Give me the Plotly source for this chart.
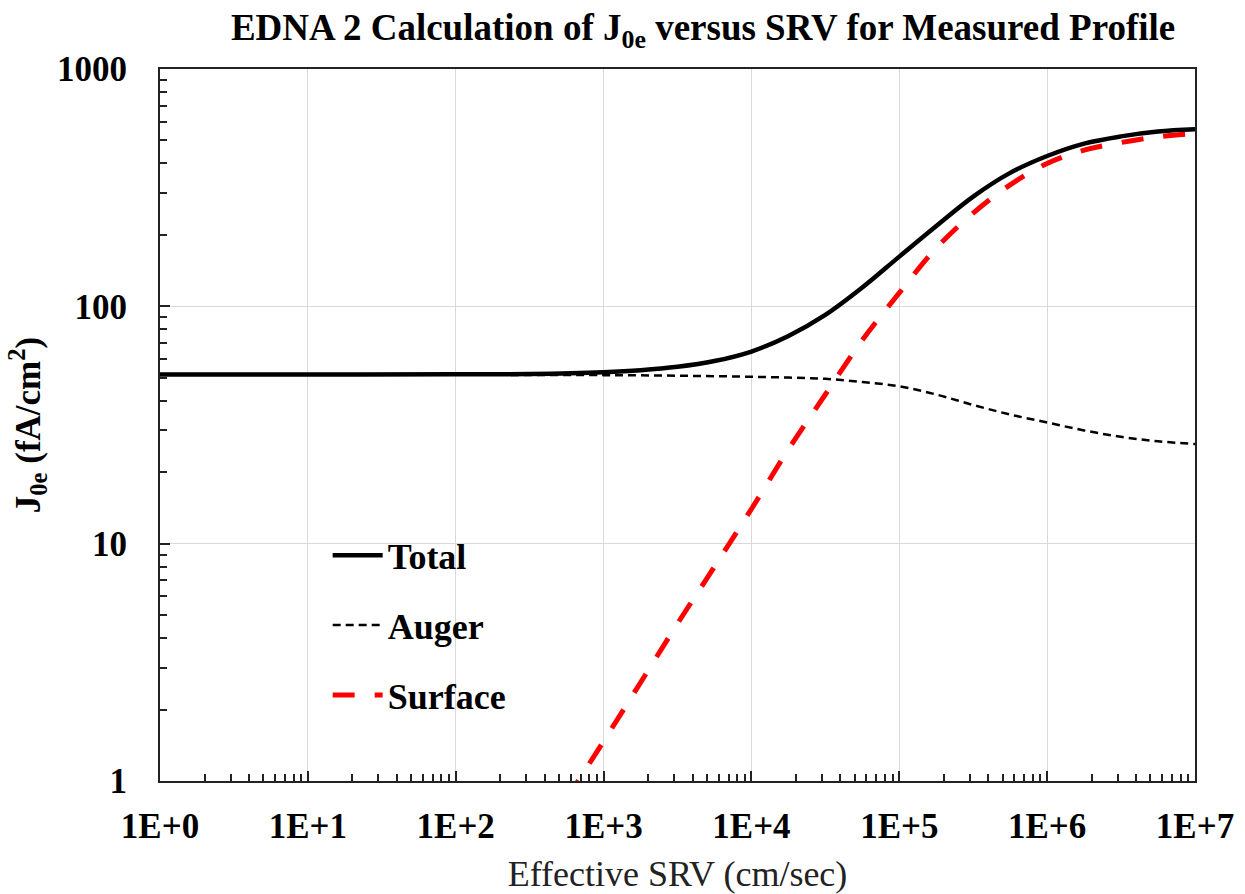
import plotly.graph_objects as go

# ---- data ----
srv = [1e0, 1e1, 1e2, 3.16e2, 1e3, 1.78e3, 3.16e3, 5.62e3, 1e4, 1.78e4, 3.16e4,
       5.62e4, 1e5, 1.78e5, 3.16e5, 5.62e5, 1e6, 1.78e6, 3.16e6, 5.62e6, 1e7]
total = [51.6, 51.6, 51.7, 51.9, 52.8, 53.8, 55.6, 58.8, 64.5, 75.0, 92.0,
         120.0, 162.0, 218.0, 290.0, 365.0, 430.0, 485.0, 520.0, 545.0, 557.0]
auger = [51.6, 51.6, 51.5, 51.4, 51.3, 51.2, 51.0, 50.8, 50.5, 50.1, 49.5,
         48.0, 46.0, 42.5, 38.4, 35.0, 32.4, 30.0, 28.2, 27.0, 26.3]
surface_srv = [5.62e2, 1e3, 1.78e3, 3.16e3, 5.62e3, 1e4, 1.78e4, 3.16e4, 5.62e4,
               1e5, 1.78e5, 3.16e5, 5.62e5, 1e6, 1.78e6, 3.16e6, 5.62e6, 1e7]
surface = [0.84, 1.47, 2.6, 4.6, 8.0, 14.0, 25.0, 42.5, 72.0,
           114.0, 176.0, 247.0, 325.0, 400.0, 455.0, 490.0, 518.0, 534.0]

x_tickvals = [1e0, 1e1, 1e2, 1e3, 1e4, 1e5, 1e6, 1e7]
x_ticktext = ["1E+0", "1E+1", "1E+2", "1E+3", "1E+4", "1E+5", "1E+6", "1E+7"]
y_tickvals = [1, 10, 100, 1000]
y_ticktext = ["1", "10", "100", "1000"]

FONT = "Liberation Serif"

fig = go.Figure()
fig.add_trace(go.Scatter(x=srv, y=total, name="Total", mode="lines",
                         line=dict(color="black", width=4.5, shape="spline"),
                         legendgroup="a"))
fig.add_trace(go.Scatter(x=srv, y=auger, name="Auger", mode="lines",
                         line=dict(color="black", width=2.5, dash="8px,5px", shape="spline"),
                         legendgroup="b"))
fig.add_trace(go.Scatter(x=surface_srv, y=surface, name="Surface", mode="lines",
                         line=dict(color="#ff0000", width=5, dash="22px,20px", shape="spline"),
                         legendgroup="c"))

axis_common = dict(
    showline=True, linecolor="#222222", linewidth=2, mirror=True,
    showgrid=True, gridcolor="#d9d9d9", gridwidth=1,
    ticks="inside", ticklen=10, tickwidth=1.5, tickcolor="#222222",
    tickfont=dict(family=FONT, size=35, color="black", weight="bold"),
    zeroline=False, automargin=False,
)

fig.update_xaxes(
    type="log", range=[0, 7], tickvals=x_tickvals, ticktext=x_ticktext,
    ticklabelstandoff=13,
    minor=dict(ticks="inside", ticklen=7, tickwidth=1.5, tickcolor="#222222",
               dtick="D1", showgrid=False),
    title=dict(text="Effective SRV (cm/sec)", standoff=18,
               font=dict(family=FONT, size=36, color="#222222")),
    **axis_common,
)
fig.update_yaxes(
    type="log", range=[0, 3], tickvals=y_tickvals, ticktext=y_ticktext,
    ticklabelstandoff=24,
    minor=dict(ticks="inside", ticklen=7, tickwidth=1.5, tickcolor="#222222",
               dtick="D1", showgrid=False),
    title=dict(text="J<sub>0e</sub> (fA/cm<sup>2</sup>)", standoff=6,
               font=dict(family=FONT, size=35, color="black", weight="bold")),
    **axis_common,
)

fig.update_layout(
    width=1245, height=894,
    margin=dict(l=160, r=50, t=69, b=113),
    paper_bgcolor="white", plot_bgcolor="white",
    title=dict(text="EDNA 2 Calculation of J<sub>0e</sub> versus SRV for Measured Profile",
               x=0.5647, xanchor="center", y=1 - 27 / 894, yanchor="middle",
               font=dict(family=FONT, size=37, color="black", weight="bold")),
    legend=dict(x=0.162, y=0.359, xanchor="left", yanchor="top",
                bgcolor="rgba(0,0,0,0)", borderwidth=0,
                font=dict(family=FONT, size=36, color="black", weight="bold"),
                tracegroupgap=20, itemwidth=50),
    showlegend=True,
)

fig.write_html(
    "out.html",
    config={"displayModeBar": False},
    post_script="document.body.style.margin='0';document.body.style.overflow='hidden';",
)
